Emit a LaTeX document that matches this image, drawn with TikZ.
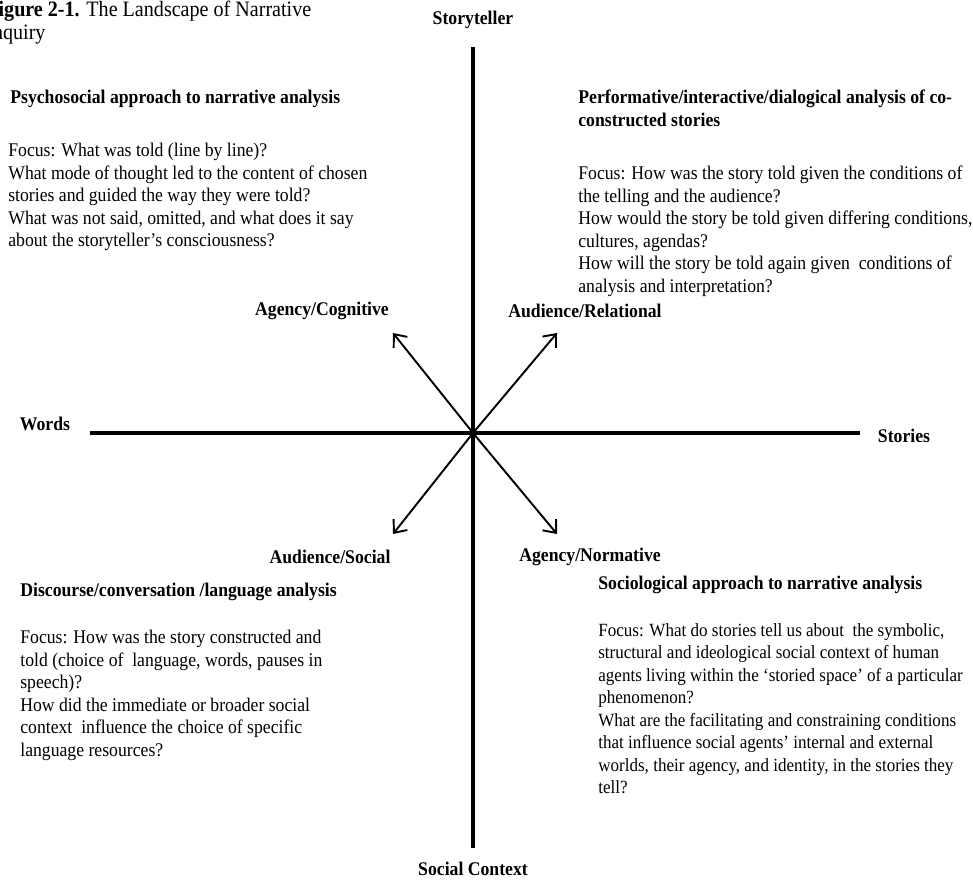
\documentclass[tikz,border=0pt]{standalone}
\usepackage{fontspec}
\setmainfont[FakeStretch=0.915]{Liberation Serif}
\usepackage{tikz}
\usetikzlibrary{arrows.meta, positioning, calc}

\begin{document}
\begin{tikzpicture}[
    x=0.02cm, y=-0.02cm,
    axis/.style={line width=2.3pt},
    pole/.style={font=\fontsize{11}{12.8}\selectfont\bfseries, inner sep=0pt},
    head/.style={font=\fontsize{11}{12.8}\selectfont\bfseries, align=left, anchor=north west, inner sep=0pt},
    focus/.style={font=\fontsize{11}{12.8}\selectfont, align=left, anchor=north west, inner sep=0pt},
    dim/.style={line width=1.1pt, -{Straight Barb[length=6pt, width=10pt, line width=1.1pt]}}
]
\useasboundingbox (0,0) rectangle (973,884);

% Caption (cut at the left edge)
\node[focus, font=\fontsize{12.5}{13.2}\selectfont] (caption) at (-14,1) {\textbf{Figure 2-1.} The Landscape of Narrative\\Inquiry};

% Axes
\coordinate (c) at (473,433);
\coordinate (top) at (473,47);
\coordinate (bottom) at (473,848);
\coordinate (left) at (90,433);
\coordinate (right) at (860,433);
\draw[axis] (top) -- (bottom);
\draw[axis] (left) -- (right);

% Pole labels
\node[pole] (storyteller) at (473,20) {Storyteller};
\node[pole] (social) at (473,869) {Social Context};
\node[pole] (words) at (45,424) {Words};
\node[pole] (stories) at (904,436) {Stories};

% Diagonal dimensions
\coordinate (ul) at (393,333);
\coordinate (ur) at (557,333);
\coordinate (ll) at (393,534);
\coordinate (lr) at (557,534);
\draw[dim] (c) -- (ul);
\draw[dim] (c) -- (ur);
\draw[dim] (c) -- (ll);
\draw[dim] (c) -- (lr);
\node[pole] (cognitive) at (322,311) {Agency/Cognitive};
\node[pole] (relational) at (585,311) {Audience/Relational};
\node[pole] (socialaud) at (330,557) {Audience/Social};
\node[pole] (normative) at (590,557) {Agency/Normative};

% Upper left quadrant
\node[head] (psycho) at (10,90) {Psychosocial approach to narrative analysis};
\node[focus] (psychofocus) at (8,143) {Focus: What was told (line by line)?\\
    What mode of thought led to the content of chosen\\
    stories and guided the way they were told?\\
    What was not said, omitted, and what does it say\\
    about the storyteller’s consciousness?};

% Upper right quadrant
\node[head] (perform) at (578,90) {Performative/interactive/dialogical analysis of co-\\constructed stories};
\node[focus] (performfocus) at (578,166) {Focus: How was the story told given the conditions of\\
    the telling and the audience?\\
    How would the story be told given differing conditions,\\
    cultures, agendas?\\
    How will the story be told again given\ \ conditions of\\
    analysis and interpretation?};

% Lower left quadrant
\node[head] (discourse) at (20,583) {Discourse/conversation /language analysis};
\node[focus] (discoursefocus) at (20,630) {Focus: How was the story constructed and\\
    told (choice of\ \ language, words, pauses in\\
    speech)?\\
    How did the immediate or broader social\\
    context\ \ influence the choice of specific\\
    language resources?};

% Lower right quadrant
\node[head] (socio) at (598,576) {Sociological approach to narrative analysis};
\node[focus, font=\fontsize{10.6}{12.8}\selectfont] (sociofocus) at (598,623) {Focus: What do stories tell us about\ \ the symbolic,\\
    structural and ideological social context of human\\
    agents living within the ‘storied space’ of a particular\\
    phenomenon?\\
    What are the facilitating and constraining conditions\\
    that influence social agents’ internal and external\\
    worlds, their agency, and identity, in the stories they\\
    tell?};

\end{tikzpicture}
\end{document}
